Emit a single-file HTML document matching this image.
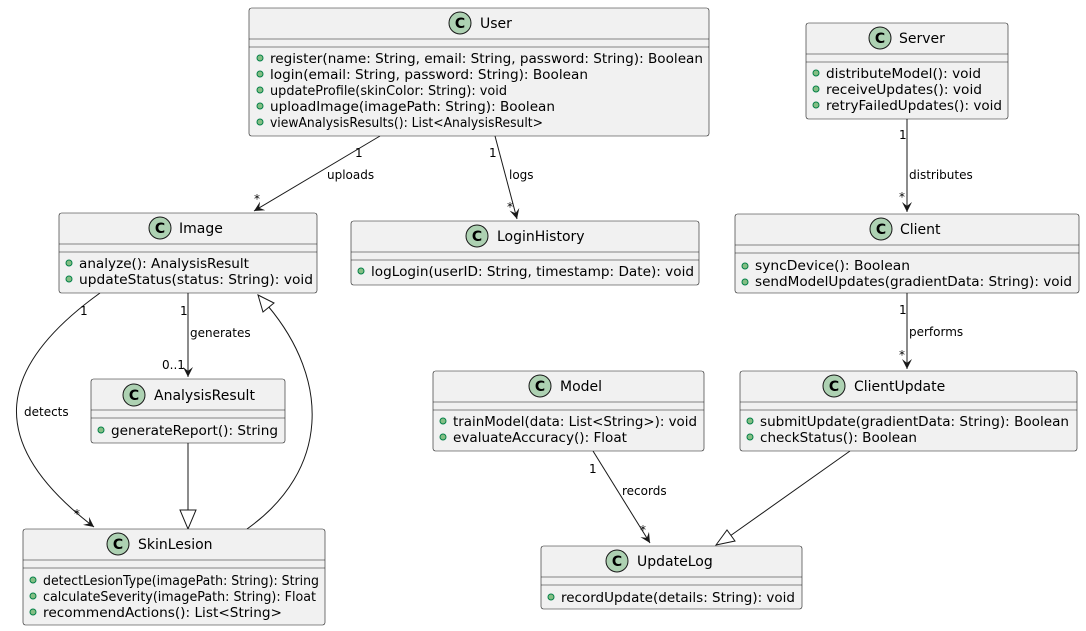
<!DOCTYPE html>
<html><head><meta charset="utf-8"><style>
html,body{margin:0;padding:0;background:#fff;}
svg{display:block;font-family:"DejaVu Sans","Liberation Sans",sans-serif;}
.b{fill:#F1F1F1;stroke:#181818;stroke-width:0.6;}
.d{stroke:#181818;stroke-width:0.6;}
.t{font-size:14px;fill:#000;}
.m{font-size:13px;fill:#000;}
.l{font-size:12px;fill:#000;}
.e{stroke:#181818;stroke-width:1;fill:none;}
.ci{fill:#ADD1B2;stroke:#181818;stroke-width:1;}
.c{font-size:14px;font-weight:bold;fill:#000;}
.bu{fill:#84BE84;stroke:#038048;stroke-width:1;}
</style></head><body>
<svg width="1086" height="631" viewBox="0 0 1086 631" xmlns="http://www.w3.org/2000/svg">
<defs>
<marker id="ar" markerWidth="12" markerHeight="12" refX="10" refY="5" orient="auto" markerUnits="userSpaceOnUse"><path d="M0,0 L10,5 L0,10 L4,5 Z" fill="#181818"/></marker>
</defs>

<!-- edges -->
<path class="e" d="M380,136 L254,211" marker-end="url(#ar)"/>
<text class="l" x="355" y="157">1</text><text class="l" x="327" y="179">uploads</text><text class="l" x="254" y="203">*</text>
<path class="e" d="M495,136 L517,219" marker-end="url(#ar)"/>
<text class="l" x="489" y="157">1</text><text class="l" x="509" y="179">logs</text><text class="l" x="507" y="211">*</text>
<path class="e" d="M907,119 L907,212" marker-end="url(#ar)"/>
<text class="l" x="899" y="139">1</text><text class="l" x="909" y="179">distributes</text><text class="l" x="899" y="201">*</text>
<path class="e" d="M907,293 L907,369" marker-end="url(#ar)"/>
<text class="l" x="899" y="314">1</text><text class="l" x="909" y="336">performs</text><text class="l" x="899" y="359">*</text>
<path class="e" d="M188,293 L188,377" marker-end="url(#ar)"/>
<text class="l" x="180" y="315">1</text><text class="l" x="190" y="337">generates</text><text class="l" x="162" y="369">0..1</text>
<path class="e" d="M100,293 C0,365 -20,440 94,527" marker-end="url(#ar)"/>
<text class="l" x="80" y="315">1</text><text class="l" x="24" y="416">detects</text><text class="l" x="74" y="518">*</text>
<path class="e" d="M188,443 L188,510"/>
<path d="M180,510 L196,510 L188,529 Z" fill="#fff" stroke="#181818" stroke-width="1"/>
<path class="e" d="M247,529 C330,470 330,380 268,306"/>
<path d="M258,295 L274,303 L263,312 Z" fill="#fff" stroke="#181818" stroke-width="1"/>
<path class="e" d="M593,451 L650,543" marker-end="url(#ar)"/>
<text class="l" x="589" y="473">1</text><text class="l" x="622" y="495">records</text><text class="l" x="640" y="534">*</text>
<path class="e" d="M850,451 L730,536"/>
<path d="M716,545 L727,530 L735,541 Z" fill="#fff" stroke="#181818" stroke-width="1"/>

<!-- User -->
<rect class="b" x="249" y="8" width="460" height="128" rx="2.5"/>
<line class="d" x1="249" y1="39" x2="709" y2="39"/><line class="d" x1="249" y1="47" x2="709" y2="47"/>
<circle class="ci" cx="460" cy="23" r="11"/><text class="c" x="460" y="28" text-anchor="middle">C</text>
<text class="t" x="480" y="28">User</text>
<g class="m">
<circle class="bu" cx="260" cy="58" r="3"/><text x="270" y="63" textLength="433" lengthAdjust="spacingAndGlyphs">register(name: String, email: String, password: String): Boolean</text>
<circle class="bu" cx="260" cy="74" r="3"/><text x="270" y="79" textLength="318" lengthAdjust="spacingAndGlyphs">login(email: String, password: String): Boolean</text>
<circle class="bu" cx="260" cy="90" r="3"/><text x="270" y="95" textLength="237" lengthAdjust="spacingAndGlyphs">updateProfile(skinColor: String): void</text>
<circle class="bu" cx="260" cy="106" r="3"/><text x="270" y="111" textLength="285" lengthAdjust="spacingAndGlyphs">uploadImage(imagePath: String): Boolean</text>
<circle class="bu" cx="260" cy="122" r="3"/><text x="270" y="127" textLength="273" lengthAdjust="spacingAndGlyphs">viewAnalysisResults(): List&lt;AnalysisResult&gt;</text>
</g>

<!-- Server -->
<rect class="b" x="806" y="23" width="202" height="96" rx="2.5"/>
<line class="d" x1="806" y1="54" x2="1008" y2="54"/><line class="d" x1="806" y1="62" x2="1008" y2="62"/>
<circle class="ci" cx="880" cy="38" r="11"/><text class="c" x="880" y="43" text-anchor="middle">C</text>
<text class="t" x="899" y="43">Server</text>
<g class="m">
<circle class="bu" cx="816" cy="73" r="3"/><text x="826" y="78" textLength="155" lengthAdjust="spacingAndGlyphs">distributeModel(): void</text>
<circle class="bu" cx="816" cy="89" r="3"/><text x="826" y="94" textLength="156" lengthAdjust="spacingAndGlyphs">receiveUpdates(): void</text>
<circle class="bu" cx="816" cy="105" r="3"/><text x="826" y="110" textLength="176" lengthAdjust="spacingAndGlyphs">retryFailedUpdates(): void</text>
</g>

<!-- Image -->
<rect class="b" x="59" y="213" width="258" height="80" rx="2.5"/>
<line class="d" x1="59" y1="244" x2="317" y2="244"/><line class="d" x1="59" y1="252" x2="317" y2="252"/>
<circle class="ci" cx="160" cy="228" r="11"/><text class="c" x="160" y="233" text-anchor="middle">C</text>
<text class="t" x="179" y="233">Image</text>
<g class="m">
<circle class="bu" cx="69" cy="263" r="3"/><text x="79" y="268" textLength="170" lengthAdjust="spacingAndGlyphs">analyze(): AnalysisResult</text>
<circle class="bu" cx="69" cy="279" r="3"/><text x="79" y="284" textLength="234" lengthAdjust="spacingAndGlyphs">updateStatus(status: String): void</text>
</g>

<!-- LoginHistory -->
<rect class="b" x="351" y="221" width="348" height="64" rx="2.5"/>
<line class="d" x1="351" y1="252" x2="699" y2="252"/><line class="d" x1="351" y1="260" x2="699" y2="260"/>
<circle class="ci" cx="477" cy="236" r="11"/><text class="c" x="477" y="241" text-anchor="middle">C</text>
<text class="t" x="497" y="241">LoginHistory</text>
<g class="m">
<circle class="bu" cx="361" cy="271" r="3"/><text x="371" y="276" textLength="323" lengthAdjust="spacingAndGlyphs">logLogin(userID: String, timestamp: Date): void</text>
</g>

<!-- Client -->
<rect class="b" x="735" y="214" width="344" height="79" rx="2.5"/>
<line class="d" x1="735" y1="245" x2="1079" y2="245"/><line class="d" x1="735" y1="253" x2="1079" y2="253"/>
<circle class="ci" cx="881" cy="229" r="11"/><text class="c" x="881" y="234" text-anchor="middle">C</text>
<text class="t" x="900" y="234">Client</text>
<g class="m">
<circle class="bu" cx="745" cy="266" r="3"/><text x="755" y="270" textLength="155" lengthAdjust="spacingAndGlyphs">syncDevice(): Boolean</text>
<circle class="bu" cx="745" cy="282" r="3"/><text x="755" y="286" textLength="317" lengthAdjust="spacingAndGlyphs">sendModelUpdates(gradientData: String): void</text>
</g>

<!-- AnalysisResult -->
<rect class="b" x="91" y="379" width="194" height="64" rx="2.5"/>
<line class="d" x1="91" y1="410" x2="285" y2="410"/><line class="d" x1="91" y1="418" x2="285" y2="418"/>
<circle class="ci" cx="134" cy="395" r="11"/><text class="c" x="134" y="400" text-anchor="middle">C</text>
<text class="t" x="154" y="400">AnalysisResult</text>
<g class="m">
<circle class="bu" cx="101" cy="430" r="3"/><text x="111" y="435" textLength="167" lengthAdjust="spacingAndGlyphs">generateReport(): String</text>
</g>

<!-- Model -->
<rect class="b" x="433" y="371" width="271" height="80" rx="2.5"/>
<line class="d" x1="433" y1="402" x2="704" y2="402"/><line class="d" x1="433" y1="410" x2="704" y2="410"/>
<circle class="ci" cx="540" cy="386" r="11"/><text class="c" x="540" y="391" text-anchor="middle">C</text>
<text class="t" x="560" y="391">Model</text>
<g class="m">
<circle class="bu" cx="443" cy="421" r="3"/><text x="453" y="426" textLength="244" lengthAdjust="spacingAndGlyphs">trainModel(data: List&lt;String&gt;): void</text>
<circle class="bu" cx="443" cy="437" r="3"/><text x="453" y="442" textLength="174" lengthAdjust="spacingAndGlyphs">evaluateAccuracy(): Float</text>
</g>

<!-- ClientUpdate -->
<rect class="b" x="740" y="371" width="337" height="80" rx="2.5"/>
<line class="d" x1="740" y1="402" x2="1077" y2="402"/><line class="d" x1="740" y1="410" x2="1077" y2="410"/>
<circle class="ci" cx="834" cy="386" r="11"/><text class="c" x="834" y="391" text-anchor="middle">C</text>
<text class="t" x="854" y="391">ClientUpdate</text>
<g class="m">
<circle class="bu" cx="750" cy="421" r="3"/><text x="760" y="426" textLength="309" lengthAdjust="spacingAndGlyphs">submitUpdate(gradientData: String): Boolean</text>
<circle class="bu" cx="750" cy="437" r="3"/><text x="760" y="442" textLength="157" lengthAdjust="spacingAndGlyphs">checkStatus(): Boolean</text>
</g>

<!-- SkinLesion -->
<rect class="b" x="23" y="529" width="302" height="96" rx="2.5"/>
<line class="d" x1="23" y1="560" x2="325" y2="560"/><line class="d" x1="23" y1="568" x2="325" y2="568"/>
<circle class="ci" cx="118" cy="544" r="11"/><text class="c" x="118" y="549" text-anchor="middle">C</text>
<text class="t" x="138" y="549">SkinLesion</text>
<g class="m">
<circle class="bu" cx="33" cy="580" r="3"/><text x="43" y="585" textLength="276" lengthAdjust="spacingAndGlyphs">detectLesionType(imagePath: String): String</text>
<circle class="bu" cx="33" cy="596" r="3"/><text x="43" y="601" textLength="273" lengthAdjust="spacingAndGlyphs">calculateSeverity(imagePath: String): Float</text>
<circle class="bu" cx="33" cy="612" r="3"/><text x="43" y="617" textLength="239" lengthAdjust="spacingAndGlyphs">recommendActions(): List&lt;String&gt;</text>
</g>

<!-- UpdateLog -->
<rect class="b" x="541" y="546" width="261" height="63" rx="2.5"/>
<line class="d" x1="541" y1="577" x2="802" y2="577"/><line class="d" x1="541" y1="585" x2="802" y2="585"/>
<circle class="ci" cx="617" cy="561" r="11"/><text class="c" x="617" y="566" text-anchor="middle">C</text>
<text class="t" x="637" y="566">UpdateLog</text>
<g class="m">
<circle class="bu" cx="551" cy="597" r="3"/><text x="561" y="602" textLength="234" lengthAdjust="spacingAndGlyphs">recordUpdate(details: String): void</text>
</g>
</svg>
</body></html>
